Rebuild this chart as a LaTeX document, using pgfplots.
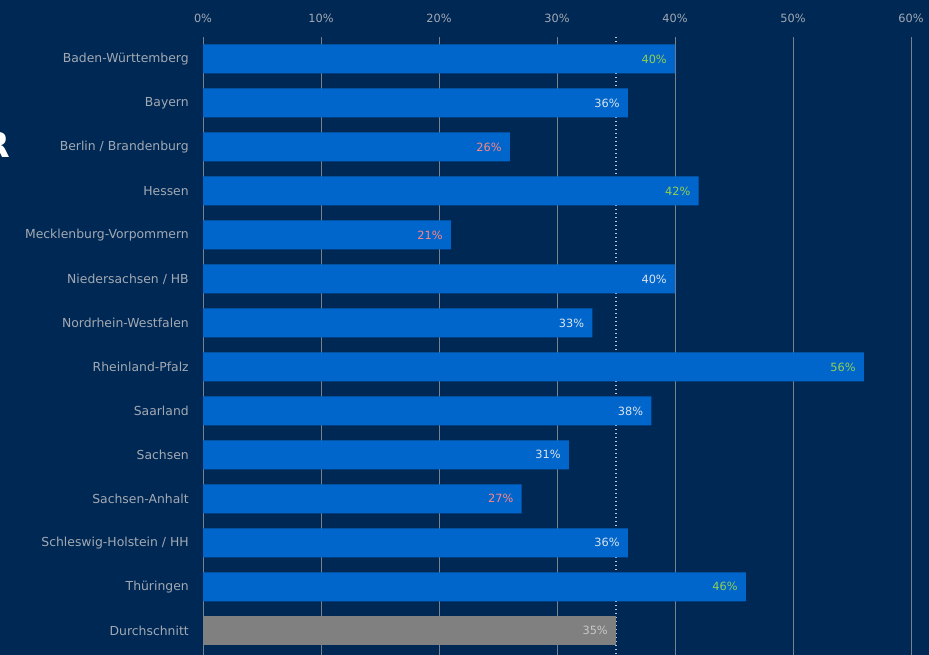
\documentclass[border=0pt]{standalone}
\usepackage{pgfplots}
\pgfplotsset{compat=1.18}
\usepackage{fontspec}
\setmainfont{DejaVu Sans}
\definecolor{bg}{HTML}{002854}
\definecolor{barblue}{HTML}{0066CC}
\definecolor{bargray}{HTML}{808080}
\definecolor{txtgray}{HTML}{A3A9B3}
\definecolor{gridgray}{HTML}{7A808C}
\definecolor{lgreen}{HTML}{92D050}
\definecolor{lpink}{HTML}{FF8585}
\definecolor{lwhite}{HTML}{DCE3EC}
\definecolor{lavg}{HTML}{C8C8C8}
\begin{document}
\begin{tikzpicture}
\fill[bg] (0,0) rectangle (696.75pt,-491.25pt);
\useasboundingbox (0,0) rectangle (696.75pt,-491.25pt);
\clip (0,0) rectangle (696.75pt,-491.25pt);
\node[anchor=east, inner sep=0pt, text=white, font=\bfseries\fontsize{26}{26}\selectfont] at (7.5pt,-108.75pt) {R};
\begin{axis}[
  at={(152.25pt,-27.75pt)}, anchor=north west,
  scale only axis, width=531pt, height=463.5pt,
  xbar, bar width=21.75pt, bar shift=0pt,
  xmin=0, xmax=60, ymin=-0.5, ymax=13.55, y dir=reverse,
  axis line style={draw=none},
  major tick length=0pt,
  /pgf/number format/assume math mode=true,
  xmajorgrids, major grid style={gridgray, line width=0.7pt},
  xtick={0,10,20,30,40,50,60},
  xticklabels={0\%,10\%,20\%,30\%,40\%,50\%,60\%},
  xticklabel pos=upper,
  xticklabel style={anchor=center, yshift=14pt, text=txtgray, font=\fontsize{8.5}{9}\selectfont},
  ytick={0,...,13},
  yticklabels={Baden-Württemberg, Bayern, Berlin / Brandenburg, Hessen, Mecklenburg-Vorpommern, Niedersachsen / HB, Nordrhein-Westfalen, Rheinland-Pfalz, Saarland, Sachsen, Sachsen-Anhalt, Schleswig-Holstein / HH, Thüringen, Durchschnitt},
  yticklabel style={anchor=east, inner sep=0pt, xshift=-10.5pt, text=txtgray, font=\fontsize{9.3}{10}\selectfont},
  point meta=x,
  every node near coord/.append style={anchor=east, inner sep=0pt, xshift=-6pt, font=\fontsize{8.5}{9}\selectfont},
]
% average reference line
\addplot[sharp plot, lavg, line width=1.6pt, dash pattern=on 0.9pt off 2.1pt, forget plot] coordinates {(35,-0.5) (35,13.55)};
% bars with green labels
\addplot[fill=barblue, draw=none, nodes near coords={\pgfmathprintnumber{\pgfplotspointmeta}\%},
  every node near coord/.append style={text=lgreen}] coordinates {(40,0) (42,3) (56,7) (46,12)};
% bars with pink labels
\addplot[fill=barblue, draw=none, nodes near coords={\pgfmathprintnumber{\pgfplotspointmeta}\%},
  every node near coord/.append style={text=lpink}] coordinates {(26,2) (21,4) (27,10)};
% bars with white labels
\addplot[fill=barblue, draw=none, nodes near coords={\pgfmathprintnumber{\pgfplotspointmeta}\%},
  every node near coord/.append style={text=lwhite}] coordinates {(36,1) (40,5) (33,6) (38,8) (31,9) (36,11)};
% average
\addplot[fill=bargray, draw=none, nodes near coords={\pgfmathprintnumber{\pgfplotspointmeta}\%},
  every node near coord/.append style={text=lavg}] coordinates {(35,13)};
\end{axis}
\end{tikzpicture}
\end{document}
